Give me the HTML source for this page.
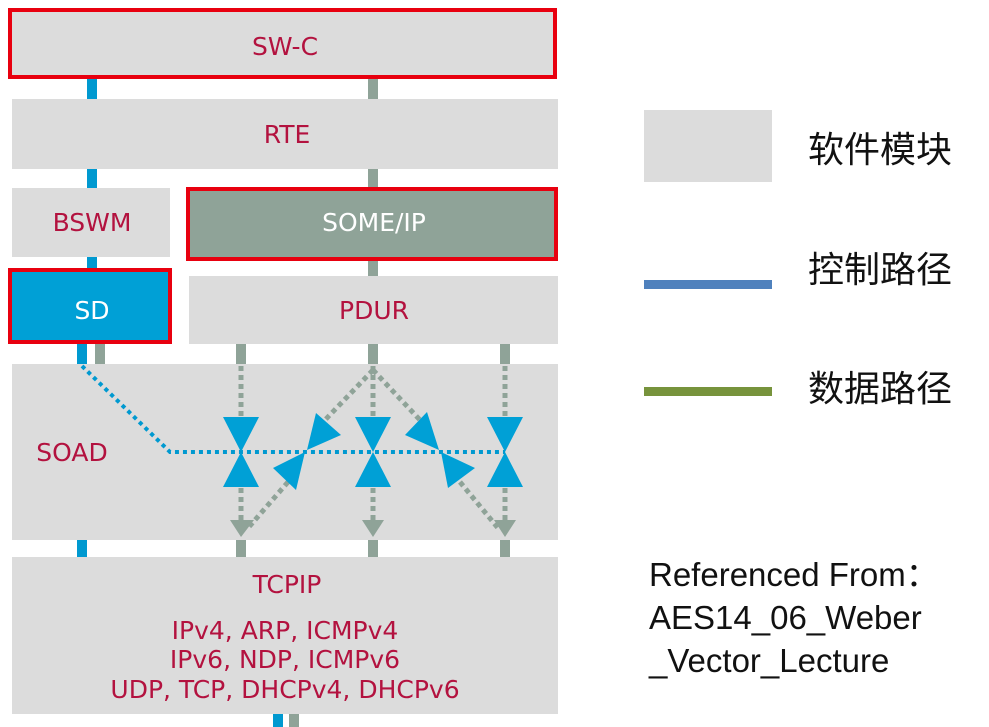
<!DOCTYPE html>
<html><head><meta charset="utf-8"><style>
html,body{margin:0;padding:0;background:#fff;width:989px;height:727px;overflow:hidden}
svg{display:block}
.t{font-family:"DejaVu Sans","Liberation Sans",sans-serif;font-size:25px;fill:#b3123f;text-anchor:middle}
.w{fill:#fff}
.l{font-family:"Liberation Sans","Noto Sans CJK SC",sans-serif;font-size:36px;fill:#111}
.r{font-family:"Liberation Sans",sans-serif;font-size:33px;fill:#111}
</style></head><body>
<svg width="989" height="727" viewBox="0 0 989 727">
<g fill="#0099d0">
<rect x="87" y="78" width="10" height="22"/><rect x="87" y="168" width="10" height="20"/><rect x="87" y="257" width="10" height="14"/>
<rect x="77" y="344" width="10" height="20"/><rect x="77" y="540" width="10" height="17"/><rect x="273" y="714" width="10" height="13"/>
</g>
<g fill="#8fa398">
<rect x="368" y="78" width="10" height="22"/><rect x="368" y="168" width="10" height="20"/><rect x="368" y="260" width="10" height="16"/>
<rect x="95" y="344" width="10" height="20"/>
<rect x="236" y="344" width="10" height="20"/><rect x="368" y="344" width="10" height="20"/><rect x="500" y="344" width="10" height="20"/>
<rect x="236" y="540" width="10" height="17"/><rect x="368" y="540" width="10" height="17"/><rect x="500" y="540" width="10" height="17"/>
<rect x="289" y="714" width="10" height="13"/>
</g>
<rect x="10" y="10" width="545" height="67" fill="#dcdcdc" stroke="#e8000f" stroke-width="4"/>
<text class="t" x="285" y="55">SW-C</text>
<rect x="12" y="99" width="546" height="70" fill="#dcdcdc"/>
<text class="t" x="287" y="143">RTE</text>
<rect x="12" y="188" width="158" height="69" fill="#dcdcdc"/>
<text class="t" x="92" y="231">BSWM</text>
<rect x="188" y="189" width="368" height="70" fill="#8fa398" stroke="#e8000f" stroke-width="4"/>
<text class="t w" x="374" y="231">SOME/IP</text>
<rect x="10" y="270" width="160" height="72" fill="#00a0d6" stroke="#e8000f" stroke-width="4"/>
<text class="t w" x="92" y="319">SD</text>
<rect x="189" y="276" width="369" height="68" fill="#dcdcdc"/>
<text class="t" x="374" y="319">PDUR</text>
<rect x="12" y="364" width="546" height="176" fill="#dcdcdc"/>
<text class="t" x="72" y="461">SOAD</text>
<rect x="12" y="557" width="546" height="157" fill="#dcdcdc"/>
<text class="t" x="287" y="593">TCPIP</text>
<text class="t" x="285" y="639">IPv4, ARP, ICMPv4</text>
<text class="t" x="285" y="668">IPv6, NDP, ICMPv6</text>
<text class="t" x="285" y="698">UDP, TCP, DHCPv4, DHCPv6</text>
<g fill="none" stroke="#8fa398" stroke-width="5" stroke-dasharray="5 4">
<line x1="241" y1="366" x2="241" y2="418"/><line x1="373" y1="366" x2="373" y2="418"/><line x1="505" y1="366" x2="505" y2="418"/>
<line x1="241" y1="488" x2="241" y2="522"/><line x1="373" y1="488" x2="373" y2="522"/><line x1="505" y1="488" x2="505" y2="522"/>
<line x1="373" y1="370" x2="325" y2="420"/><line x1="373" y1="370" x2="420" y2="420"/>
<line x1="288" y1="482" x2="248" y2="528"/><line x1="460" y1="482" x2="498" y2="528"/>
</g>
<g fill="#8fa398">
<polygon points="230,520 254,520 241,537"/><polygon points="362,520 384,520 373,537"/><polygon points="494,520 516,520 505,537"/>
</g>
<polyline points="82,366 170,452 505,452" fill="none" stroke="#0099d0" stroke-width="4" stroke-dasharray="4 4"/>
<g fill="#00a0d6">
<polygon points="223,417 259,417 241,452 223,487 259,487"/>
<polygon points="355,417 391,417 373,452 355,487 391,487"/>
<polygon points="487,417 523,417 505,452 487,487 523,487"/>
<polygon points="316,413 341,435 307,450"/>
<polygon points="305,452 296,490 273,468"/>
<polygon points="427,412 439,450 405,435"/>
<polygon points="441,452 475,468 448,488"/>
</g>
<rect x="644" y="110" width="128" height="72" fill="#dcdcdc"/>
<text class="l" x="808" y="162">软件模块</text>
<rect x="644" y="280" width="128" height="9" fill="#4f81bd"/>
<text class="l" x="808" y="282">控制路径</text>
<rect x="644" y="387" width="128" height="9" fill="#77933c"/>
<text class="l" x="808" y="401">数据路径</text>
<text class="r" x="649" y="586">Referenced From：</text>
<text class="r" x="649" y="629">AES14_06_Weber</text>
<text class="r" x="649" y="672">_Vector_Lecture</text>
</svg>
</body></html>
